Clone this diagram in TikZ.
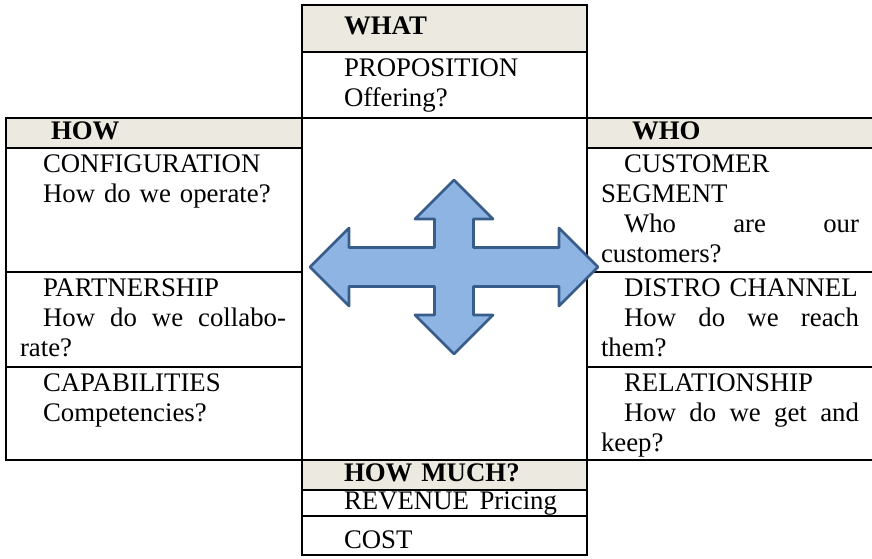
\documentclass[tikz,border=0pt]{standalone}
\usepackage{fontspec}
\setmainfont{Liberation Serif}
\usepackage{tikz}
\usetikzlibrary{positioning}
\usepackage{xcolor}
\definecolor{headbg}{RGB}{236,234,224}
\definecolor{arrowfill}{RGB}{141,180,226}
\definecolor{arrowline}{RGB}{56,93,138}
\newcommand{\cellfont}{\fontsize{26.8}{30}\selectfont}
\newcommand{\pind}{\hspace*{23pt}}
\newcommand{\hind}{\hspace*{31pt}}
\newcommand{\cind}{\hspace*{28pt}}

\begin{document}
\begin{tikzpicture}[
    x=1pt, y=-1pt,
    font=\cellfont,
    cell/.style={
        draw=black, line width=2pt,
        inner xsep=14pt, inner ysep=3.5pt, outer sep=0pt,
        align=left
    },
    head/.style={
        cell, fill=headbg, inner ysep=0pt,
        text height=21pt, text depth=9pt,
        minimum height=#1, font=\cellfont\bfseries
    },
    body/.style={cell, text height=21pt, text depth=#1},
    lcol/.style={text width=268pt},
    ccol/.style={text width=257pt},
    rcol/.style={text width=260pt},
    crossarrow/.style={draw=arrowline, fill=arrowfill, line width=2.7pt, line join=round}
]
\useasboundingbox (0,0) rectangle (872,558);
\clip (0,0) rectangle (872,558);

% Centre column: proposition on top, money at the bottom
\node[head=47pt, ccol, anchor=north west] (what) at (302,5) {\cind WHAT};
\node[body=38pt, ccol, below=0pt of what] (prop) {\cind PROPOSITION\\\cind Offering?};
\node[cell, ccol, minimum height=342pt, below=0pt of prop] (core) {};
\node[head=30pt, ccol, below=0pt of core] (howmuch) {\cind HOW MUCH?};
\node[cell, ccol, inner ysep=0pt, text height=19pt, text depth=6pt,
      minimum height=26pt, below=0pt of howmuch] (revenue) {\cind\makebox[213pt][l]{REVENUE\hfill Pricing}};
\node[cell, ccol, inner ysep=0pt, text height=25pt, text depth=0pt,
      minimum height=39pt, below=0pt of revenue] (cost) {\cind COST};

% Left table
\node[head=30pt, lcol, anchor=north east] (how) at (core.north west) {\hind HOW};
\node[body=96pt, lcol, below=0pt of how] (config) {\pind CONFIGURATION\\\pind How do we operate?};
\node[body=67pt, lcol, below=0pt of config] (partner) {\pind PARTNERSHIP\\\pind\makebox[243pt][l]{How\hfill do\hfill we\hfill collabo-}\\rate?};
\node[body=65pt, lcol, below=0pt of partner] (capab) {\pind CAPABILITIES\\\pind Competencies?};

% Right table
\node[head=30pt, rcol, anchor=north west] (who) at (core.north east) {\hind WHO};
\node[body=96pt, rcol, below=0pt of who] (segment) {\pind CUSTOMER\\SEGMENT\\\pind\makebox[235pt][l]{Who\hfill are\hfill our}\\customers?};
\node[body=67pt, rcol, below=0pt of segment] (channel) {\pind DISTRO CHANNEL\\\pind\makebox[235pt][l]{How\hfill do\hfill we\hfill reach}\\them?};
\node[body=65pt, rcol, below=0pt of channel] (relation) {\pind RELATIONSHIP\\\pind\makebox[235pt][l]{How\hfill do\hfill we\hfill get\hfill and}\\keep?};

% Four-way arrow over the middle
\coordinate (hub) at (454,267);
\draw[crossarrow, shift={(hub)}]
    (-144,0) -- (-105,-39) -- (-105,-19.5) -- (-19.5,-19.5) -- (-19.5,-48)
    -- (-39,-48) -- (0,-87) -- (39,-48) -- (19.5,-48) -- (19.5,-19.5)
    -- (105,-19.5) -- (105,-39) -- (144,0) -- (105,39) -- (105,19.5)
    -- (19.5,19.5) -- (19.5,48) -- (39,48) -- (0,87) -- (-39,48)
    -- (-19.5,48) -- (-19.5,19.5) -- (-105,19.5) -- (-105,39) -- cycle;

\end{tikzpicture}
\end{document}
